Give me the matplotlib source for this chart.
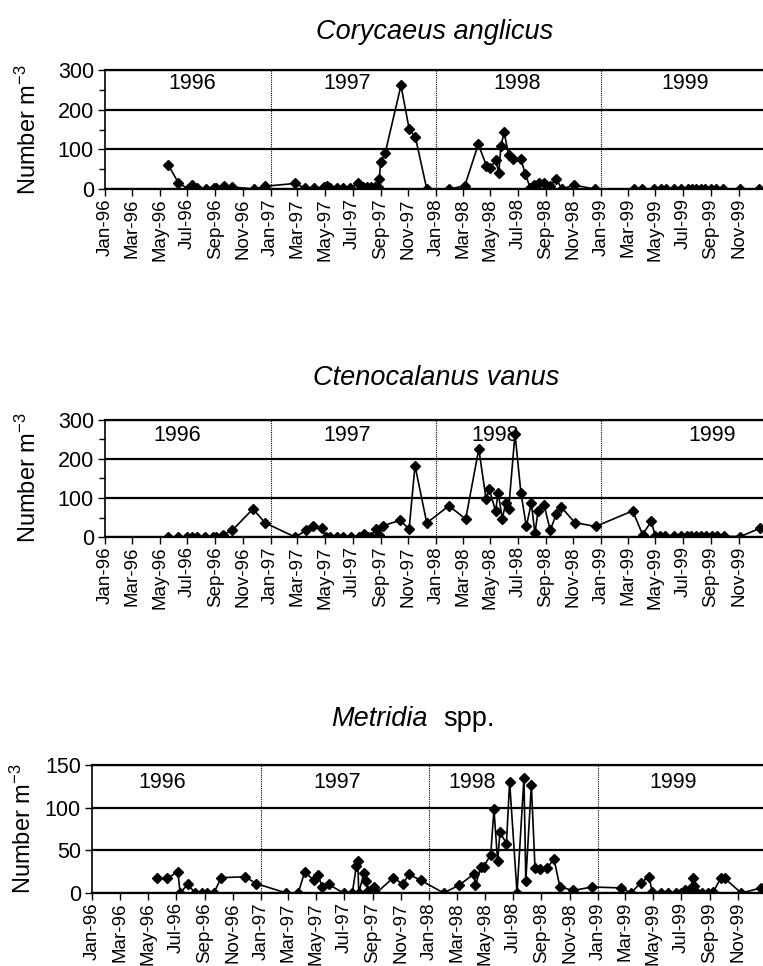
import matplotlib
matplotlib.use("Agg")
import matplotlib.pyplot as plt
import matplotlib.dates as mdates
from matplotlib.ticker import MultipleLocator
import pandas as pd

plt.rcParams["font.family"] = ["Liberation Sans", "DejaVu Sans"]
plt.rcParams["mathtext.default"] = "regular"

# Corycaeus anglicus, number per m3
cor_dates = [
    "1996-05-20", "1996-06-11", "1996-07-03", "1996-07-11", "1996-07-22", "1996-08-11",
    "1996-08-28", "1996-09-03", "1996-09-19", "1996-10-08", "1996-11-26", "1996-12-20",
    "1997-02-24", "1997-03-18", "1997-04-06", "1997-04-28", "1997-05-05", "1997-05-13",
    "1997-05-27", "1997-06-11", "1997-06-26", "1997-07-14", "1997-07-25", "1997-08-01",
    "1997-08-10", "1997-08-20", "1997-08-27", "1997-08-29", "1997-09-01", "1997-09-11",
    "1997-10-16", "1997-11-03", "1997-11-17", "1997-12-12",
    "1998-01-31", "1998-03-06", "1998-04-05", "1998-04-23", "1998-04-30", "1998-05-14",
    "1998-05-20", "1998-05-25", "1998-06-01", "1998-06-11", "1998-06-21", "1998-07-08",
    "1998-07-18", "1998-07-29", "1998-08-06", "1998-08-17", "1998-08-28", "1998-09-10",
    "1998-09-24", "1998-10-07", "1998-11-02", "1998-12-18",
    "1999-03-15", "1999-04-01", "1999-04-29", "1999-05-14", "1999-05-25", "1999-06-12",
    "1999-06-27", "1999-07-13", "1999-07-21", "1999-07-30", "1999-08-10", "1999-08-19",
    "1999-09-01", "1999-09-12", "1999-09-27", "1999-11-05", "1999-12-17",
]
cor_counts = [
    60, 16, 0, 10, 2, 0, 2, 2, 8, 5, 0, 7,
    14, 2, 2, 4, 8, 2, 2, 2, 2, 14, 6, 4,
    4, 4, 4, 24, 67, 90, 261, 152, 130, 0,
    0, 8, 113, 58, 52, 72, 40, 109, 143, 86, 75, 75,
    37, 2, 10, 16, 16, 8, 25, 0, 10, 0,
    0, 0, 0, 0, 0, 0, 0, 0, 0, 0, 0, 0,
    0, 0, 0, 0, 0,
]

# Ctenocalanus vanus
cte_dates = [
    "1996-05-20", "1996-06-11", "1996-06-30", "1996-07-12", "1996-07-22", "1996-08-10",
    "1996-08-26", "1996-09-02", "1996-09-18", "1996-10-08", "1996-11-23", "1996-12-20",
    "1997-02-24", "1997-03-21", "1997-04-04", "1997-04-24", "1997-05-03", "1997-05-13",
    "1997-05-27", "1997-06-11", "1997-06-27", "1997-07-16", "1997-07-27", "1997-08-04",
    "1997-08-10", "1997-08-22", "1997-08-29", "1997-09-07", "1997-10-14", "1997-11-03",
    "1997-11-16", "1997-12-12",
    "1998-01-30", "1998-03-08", "1998-04-06", "1998-04-22", "1998-04-29", "1998-05-13",
    "1998-05-19", "1998-05-28", "1998-06-04", "1998-06-11", "1998-06-25", "1998-07-08",
    "1998-07-20", "1998-07-31", "1998-08-08", "1998-08-15", "1998-08-28", "1998-09-11",
    "1998-09-24", "1998-10-05", "1998-11-04", "1998-12-20",
    "1999-03-12", "1999-04-03", "1999-04-22", "1999-05-01", "1999-05-12", "1999-05-23",
    "1999-06-11", "1999-06-27", "1999-07-10", "1999-07-19", "1999-07-29", "1999-08-09",
    "1999-08-21", "1999-09-03", "1999-09-14", "1999-09-29", "1999-11-05", "1999-12-19",
]
cte_counts = [
    0, 0, 0, 0, 0, 0, 0, 0, 6, 17, 72, 36,
    0, 17, 29, 23, 1, 0, 0, 0, 0, 1, 8, 1,
    1, 20, 5, 29, 43, 20, 183, 36,
    80, 46, 226, 97, 123, 67, 113, 46, 87, 72, 265, 114,
    27, 87, 10, 67, 83, 17, 59, 77, 37, 27,
    67, 6, 40, 3, 2, 2, 2, 2, 3, 2, 2, 2,
    2, 2, 2, 2, 1, 23,
]

# Metridia spp.
met_dates = [
    "1996-05-21", "1996-06-12", "1996-07-05", "1996-07-10", "1996-07-26", "1996-08-12",
    "1996-08-26", "1996-09-06", "1996-09-21", "1996-10-07", "1996-11-28", "1996-12-22",
    "1997-02-25", "1997-03-23", "1997-04-06", "1997-04-25", "1997-05-05", "1997-05-14",
    "1997-05-28", "1997-06-29", "1997-07-18", "1997-07-27", "1997-07-30", "1997-08-01",
    "1997-08-12", "1997-08-16", "1997-08-21", "1997-09-03", "1997-09-08", "1997-10-15",
    "1997-11-05", "1997-11-17", "1997-12-13",
    "1998-02-01", "1998-03-06", "1998-04-07", "1998-04-11", "1998-04-22", "1998-04-29",
    "1998-05-14", "1998-05-21", "1998-05-29", "1998-06-03", "1998-06-17", "1998-06-24",
    "1998-07-10", "1998-07-25", "1998-07-29", "1998-08-10", "1998-08-18", "1998-08-28",
    "1998-09-13", "1998-09-28", "1998-10-11", "1998-11-09", "1998-12-19",
    "1999-02-20", "1999-03-14", "1999-04-04", "1999-04-22", "1999-04-29", "1999-05-17",
    "1999-06-02", "1999-06-19", "1999-06-30", "1999-07-10", "1999-07-20", "1999-07-27",
    "1999-07-28", "1999-08-05", "1999-08-15", "1999-08-28", "1999-09-08", "1999-09-24",
    "1999-10-03", "1999-11-08", "1999-12-21",
]
met_counts = [
    17, 17, 25, 0, 10, 0, 0, 0, 0, 18, 19, 11,
    0, 0, 25, 15, 21, 7, 10, 0, 0, 32, 37, 0,
    23, 14, 2, 7, 0, 18, 10, 22, 15,
    0, 9, 22, 9, 30, 31, 45, 98, 37, 71, 58, 130,
    0, 135, 14, 127, 29, 28, 29, 40, 7, 3, 7,
    6, 0, 12, 19, 1, 0, 0, 0, 0, 3, 5, 18,
    8, 0, 0, 0, 1, 17, 17, 0, 6,
]

years = ["1996", "1997", "1998", "1999"]
year_starts = ["1997-01-01", "1998-01-01", "1999-01-01"]

W, H = 763, 966
X_START = pd.Timestamp("1996-01-01")
X_END = pd.Timestamp("1999-12-25")


def px_rect(left, top, bottom):
    # axes rectangle from pixel edges, running to the right edge of the figure
    return [left / W, 1 - bottom / H, 1 - left / W, (bottom - top) / H]


def draw_panel(fig, rect, dates, counts, ymax, ystep, minor, year_dates, year_y):
    ax = fig.add_axes(rect)
    x = pd.to_datetime(dates)
    ax.plot(x, counts, color="black", lw=1.2, marker="D", ms=5.0,
            mfc="black", mec="black", zorder=3)

    ax.set_xlim(X_START, X_END)
    ax.set_ylim(0, ymax)
    ax.yaxis.set_major_locator(MultipleLocator(ystep))
    if minor:
        ax.yaxis.set_minor_locator(MultipleLocator(minor))
    ax.yaxis.grid(True, color="black", lw=1.6)
    ax.set_axisbelow(True)

    for d in year_starts:
        ax.axvline(pd.Timestamp(d), color="black", lw=0.8, ls=(0, (1, 1)), zorder=1)

    for s, d in zip(years, year_dates):
        ax.text(pd.Timestamp(d), year_y, s, ha="center", va="center", fontsize=15.5)

    ax.xaxis.set_major_locator(mdates.MonthLocator(bymonth=[1, 3, 5, 7, 9, 11]))
    ax.xaxis.set_major_formatter(mdates.DateFormatter("%b-%y"))
    ax.tick_params(axis="x", direction="out", length=5, width=1, labelsize=13.5,
                   labelrotation=90, pad=1.5)
    ax.tick_params(axis="y", which="major", direction="out", length=5, width=1,
                   labelsize=15.5, pad=3)
    ax.tick_params(axis="y", which="minor", direction="out", length=4, width=1)

    ax.spines["right"].set_visible(False)
    ax.spines["top"].set_linewidth(1.6)
    ax.spines["bottom"].set_linewidth(1.6)
    ax.spines["left"].set_linewidth(1.2)
    return ax


fig = plt.figure(figsize=(W / 100, H / 100), dpi=100)

draw_panel(fig, px_rect(105, 70, 189), cor_dates, cor_counts, 300, 100, 50,
           ["1996-07-11", "1997-06-19", "1998-06-30", "1999-07-07"], 265)
draw_panel(fig, px_rect(105, 420, 537), cte_dates, cte_counts, 300, 100, 50,
           ["1996-06-08", "1997-06-19", "1998-05-13", "1999-09-03"], 259)
draw_panel(fig, px_rect(92, 765, 893), met_dates, met_counts, 150, 50, None,
           ["1996-06-01", "1997-06-16", "1998-04-04", "1999-06-13"], 130)

title_size = 19.5
fig.text(435 / W, 1 - 39 / H, "Corycaeus anglicus", ha="center", va="baseline",
         fontsize=title_size, style="italic")
fig.text(436 / W, 1 - 385 / H, "Ctenocalanus vanus", ha="center", va="baseline",
         fontsize=title_size, style="italic")
fig.text(428 / W, 1 - 726 / H, "Metridia", ha="right", va="baseline",
         fontsize=title_size, style="italic")
fig.text(443 / W, 1 - 726 / H, "spp.", ha="left", va="baseline", fontsize=title_size)

ylab = "Number m$^{-3}$"
fig.text(28 / W, 1 - 130 / H, ylab, rotation=90, ha="center", va="center", fontsize=17)
fig.text(28 / W, 1 - 478 / H, ylab, rotation=90, ha="center", va="center", fontsize=17)
fig.text(23 / W, 1 - 829 / H, ylab, rotation=90, ha="center", va="center", fontsize=17)

fig.savefig("out.png", dpi=100)
